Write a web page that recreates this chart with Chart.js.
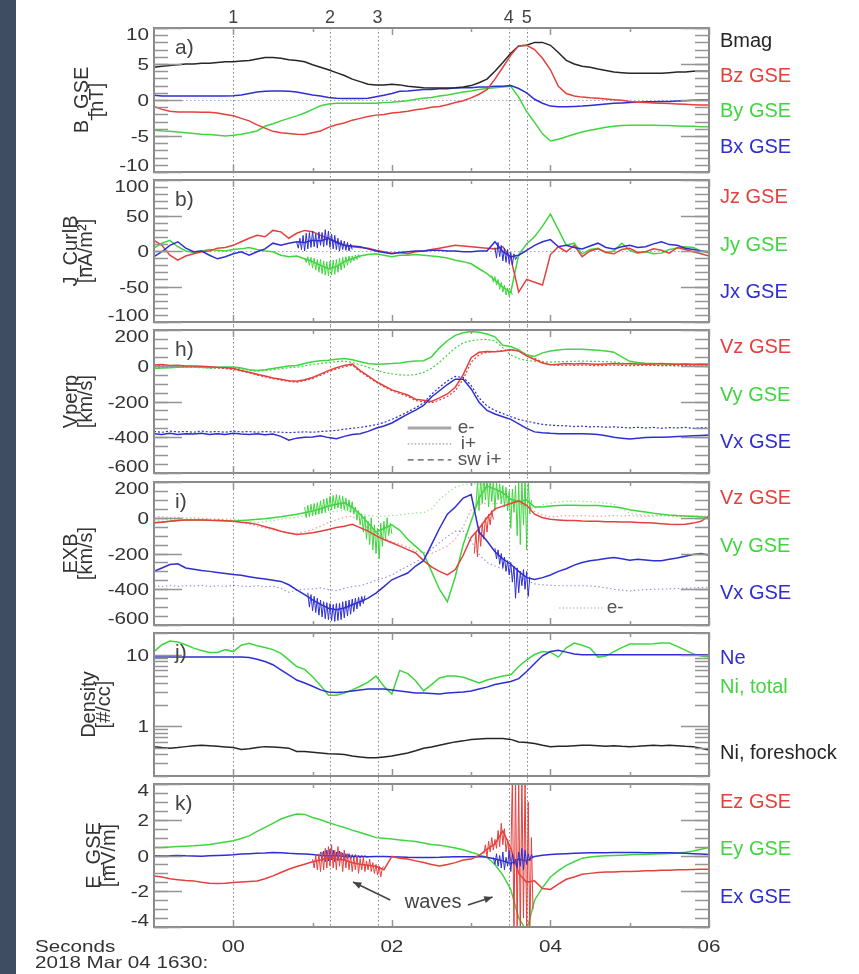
<!DOCTYPE html>
<html>
<head>
<meta charset="utf-8">
<title>2018 Mar 04 shock crossing</title>
<script src="https://cdn.jsdelivr.net/npm/chart.js@4.4.1/dist/chart.umd.min.js"></script>
<style>
  html, body { margin: 0; padding: 0; background: #fff; }
  #page { position: relative; width: 859px; height: 974px; overflow: hidden; background: #fff; }
  #strip { position: absolute; left: 0; top: 0; width: 16px; height: 974px; background: #3f4d62; }
  #page canvas { position: absolute; left: 0; }
</style>
</head>
<body>
<div id="page"><div id="strip"></div></div>
<script>
// time axis: minutes after 2018-03-04 16:30
const T = [-1.0,-0.9,-0.8,-0.7,-0.6,-0.5,-0.4,-0.3,-0.2,-0.1,0.0,0.1,0.2,0.3,0.4,0.5,0.6,0.7,0.8,0.9,
  1.0,1.1,1.2,1.3,1.4,1.5,1.6,1.7,1.8,1.9,2.0,2.1,2.2,2.3,2.4,2.5,2.6,2.7,2.8,2.9,
  3.0,3.1,3.2,3.3,3.4,3.5,3.6,3.7,3.8,3.9,4.0,4.1,4.2,4.3,4.4,4.5,4.6,4.7,4.8,4.9,
  5.0,5.1,5.2,5.3,5.4,5.5,5.6,5.7,5.8,5.9,6.0];
// finer time grids for the wave packets
const W1 = [0.80,0.82,0.84,0.86,0.88,0.90,0.92,0.94,0.96,0.98,1.00,1.02,1.04,1.06,1.08,1.10,1.12,1.14,1.16,1.18,
  1.20,1.22,1.24,1.26,1.28,1.30,1.32,1.34,1.36,1.38,1.40,1.42,1.44,1.46,1.48,1.50,1.52,1.54,1.56,1.58,
  1.60,1.62,1.64,1.66,1.68,1.70,1.72,1.74,1.76,1.78,1.80,1.82,1.84,1.86,1.88,1.90,1.92,1.94,1.96,1.98,2.00];
const W2 = [3.00,3.02,3.04,3.06,3.08,3.10,3.12,3.14,3.16,3.18,3.20,3.22,3.24,3.26,3.28,3.30,3.32,3.34,3.36,3.38,
  3.40,3.42,3.44,3.46,3.48,3.50,3.52,3.54,3.56,3.58,3.60,3.62,3.64,3.66,3.68,3.70,3.72,3.74,3.76,3.78,3.80];

const EVENT_T = [0.0, 1.22, 1.82, 3.475, 3.70];
const EVENT_LABELS = ['1', '2', '3', '4', '5'];
const X_MAJOR = [0, 2, 4, 6];
const X_LABELS = ['00', '02', '04', '06'];
const X_MINOR = [1, 3, 5];

// a) B_GSE [nT]
const BMAG = [4.55,4.7,4.8,4.9,5.0,5.0,5.1,5.1,5.2,5.3, 5.3,5.4,5.5,5.7,5.9,5.9,5.8,5.6,5.5,5.3,
  4.9,4.55,4.2,3.8,3.4,2.9,2.55,2.2,2.1,2.1, 2.2,2.1,1.9,1.8,1.7,1.65,1.65,1.65,1.7,1.8,
  2.0,2.4,2.9,4.0,5.2,6.5,7.5,7.6,8.0,8.0, 7.6,6.6,5.5,5.0,4.7,4.55,4.3,4.1,3.9,3.8,
  3.7,3.7,3.7,3.7,3.7,3.8,3.9,3.9,4.0,4.0,4.0];
const BZ = [-0.9,-1.3,-1.55,-1.65,-1.65,-1.65,-1.7,-1.7,-1.8,-2.0, -2.2,-2.55,-2.9,-3.45,-3.9,-4.35,-4.55,-4.65,-4.75,-4.8,
  -4.55,-4.3,-3.8,-3.45,-3.2,-2.8,-2.55,-2.3,-2.1,-2.0, -1.8,-1.7,-1.55,-1.35,-1.2,-1.0,-0.9,-0.65,-0.35,-0.1,
  0.3,0.8,1.45,2.9,4.55,6.2,7.55,7.6,7.0,5.8, 4.2,1.9,0.9,0.55,0.4,0.3,0.25,0.15,0.05,-0.05,
  -0.2,-0.3,-0.35,-0.4,-0.45,-0.5,-0.55,-0.6,-0.65,-0.7,-0.7];
const BY = [-4.2,-4.3,-4.35,-4.45,-4.55,-4.65,-4.75,-4.8,-4.9,-5.0, -4.9,-4.75,-4.55,-4.3,-3.65,-3.3,-2.9,-2.55,-2.2,-1.8,
  -1.3,-0.8,-0.55,-0.45,-0.45,-0.45,-0.45,-0.45,-0.45,-0.35, -0.3,-0.2,-0.1,0.1,0.25,0.35,0.55,0.7,0.9,1.1,
  1.25,1.45,1.6,1.7,1.8,1.9,0.4,-1.6,-3.1,-4.7, -5.7,-5.45,-5.1,-4.75,-4.45,-4.2,-4.0,-3.8,-3.65,-3.55,
  -3.5,-3.5,-3.5,-3.5,-3.55,-3.55,-3.6,-3.65,-3.65,-3.7,-3.7];
const BX = [0.65,0.55,0.55,0.55,0.55,0.55,0.55,0.55,0.55,0.55, 0.6,0.7,0.9,1.1,1.2,1.25,1.25,1.2,1.1,0.9,
  0.7,0.55,0.35,0.25,0.2,0.2,0.2,0.25,0.45,0.65, 0.9,1.2,1.25,1.35,1.45,1.45,1.55,1.55,1.65,1.7,
  1.7,1.8,1.8,1.9,1.9,2.0,1.6,1.0,0.1,-0.45, -0.85,-0.95,-0.95,-0.9,-0.85,-0.75,-0.65,-0.55,-0.45,-0.4,
  -0.35,-0.3,-0.25,-0.25,-0.2,-0.2,-0.15,-0.1,-0.05,0.0,0.0];

// b) J_CurlB [nA/m2]
const JZ = [15,8,-6,-13,-7,-4,-1,0,4,5, 8,13,18,22,20,29,27,18,25,29, 27,22,18,13,8,6,5,4,1,-1,
  -3,-2,-4,-1,0,2,4,6,8,7, 6,5,4,3,6,-10,-58,-40,-44,-48, -5,6,-1,8,-8,0,3,-2,-4,2, 4,-2,-1,3,1,-3,5,2,-1,-4,-7];
const JY = [4,11,15,6,0,-2,0,2,1,0, 2,3,5,2,0,-1,-6,-8,-7,-11, -15,-20,-25,-22,-15,-11,-7,-5,-4,-6,
  -8,-6,-6,-5,-6,-7,-8,-10,-13,-15, -18,-25,-32,-41,-51,-58,-5,10,20,35, 52,30,8,11,-4,2,4,-2,0,11, 1,-3,-1,-4,-3,2,4,6,5,0,-3];
const JX = [-8,-1,8,13,4,-1,0,-6,-11,-8, -4,-1,-6,-1,3,11,8,11,13,12, 15,14,18,12,8,7,6,3,0,-2,
  -4,-2,-1,0,0,1,1,0,0,-1, -1,0,0,13,-1,-8,-6,1,8,13, 16,6,8,5,3,7,11,5,3,6, 8,5,6,10,13,9,8,4,2,0,-1];
const JY_WAVE1 = [-10,-16,-8,-20,-9,-24,-10,-27,-12,-30,-12,-32,-14,-34,-15,-35,-14,-34,-13,-33,-12,-30,-10,-27,-9,-24,-8,-20,-7,-17,-7,-14,-6,-12,-5,-10];
const JX_WAVE1 = [12,4,18,2,22,0,25,3,26,5,28,6,24,4,27,8,26,6,30,8,28,5,24,3,22,2,18,0,15,2,14,1,12,0,10,2];
const JY_WAVE2 = [-34,-44,-36,-48,-40,-54,-44,-58,-48,-62,-52,-64,-56,-62];
const JX_WAVE2 = [5,-10,12,-8,8,-14,4,-16,2,-18,-2,-20,-4,-12,-8];

// h) Vperp [km/s], electrons (solid) and ions (dotted)
const VZ_E = [4,7,1,3,-1,-1,-3,-6,-9,-11, -16,-26,-36,-47,-57,-68,-76,-84,-87,-78, -66,-47,-27,-11,2,10,-27,-57,-87,-112,
  -135,-149,-164,-187,-193,-200,-180,-158,-120,-50, 45,75,80,78,82,90,82,55,35,15, 5,8,12,10,12,10,8,10,12,10, 12,10,8,10,12,10,8,10,8,10,8];
const VY_E = [-16,-13,-11,-8,-7,-7,-9,-11,-8,-7, -7,-13,-22,-27,-22,-16,-8,-1,2,13, 22,28,31,37,41,34,22,13,8,10,
  12,16,22,26,28,50,100,140,170,185, 192,188,178,162,115,108,88,60,52,72, 82,88,93,93,92,90,87,82,76,50, 25,18,14,12,10,10,8,8,6,5,5];
const VX_E = [-380,-385,-378,-384,-380,-382,-378,-385,-380,-384, -378,-382,-385,-380,-386,-382,-395,-417,-405,-400,
  -398,-392,-402,-408,-395,-385,-380,-367,-350,-337, -320,-295,-271,-248,-222,-175,-140,-105,-75,-75,
  -130,-205,-250,-270,-285,-300,-325,-350,-370,-375, -378,-380,-380,-380,-380,-382,-385,-392,-400,-405,
  -410,-405,-402,-400,-400,-398,-396,-394,-392,-390,-388];
const VZ_I = [0,2,-3,-1,-5,-6,-8,-10,-13,-16, -21,-30,-40,-52,-62,-72,-80,-88,-92,-84, -72,-54,-34,-18,-5,3,-33,-62,-92,-118,
  -140,-156,-172,-195,-202,-208,-192,-172,-140,-75, 20,62,76,80,85,90,84,64,42,20, 6,2,4,2,4,2,0,2,4,2, 0,2,4,2,0,2,0,2,0,0,2];
const VY_I = [-12,-10,-9,-9,-8,-9,-11,-13,-11,-11, -11,-17,-25,-31,-27,-22,-17,-11,-8,-1, 8,13,18,23,26,18,6,-9,-25,-37,
  -45,-51,-53,-49,-37,-15,20,60,100,128, 140,146,148,138,100,60,40,30,25,22, 20,22,24,25,26,25,24,23,22,15, 8,5,3,2,1,0,-1,-2,-3,-4,-5];
const VX_I = [-368,-372,-366,-370,-368,-372,-366,-370,-368,-372, -366,-370,-368,-372,-368,-370,-372,-374,-372,-370,
  -372,-368,-365,-362,-355,-350,-345,-338,-330,-318, -300,-280,-258,-235,-208,-160,-120,-85,-60,-65,
  -110,-180,-225,-250,-268,-285,-300,-310,-320,-328, -332,-335,-336,-340,-338,-342,-340,-344,-342,-345,
  -348,-344,-348,-345,-350,-346,-348,-345,-350,-346,-348];
const KEY_H = ['e-', 'i+', 'sw i+'];

// i) EXB [km/s]
const EXB_VZ = [-28,-25,-20,-15,-13,-13,-12,-14,-15,-17, -19,-25,-30,-37,-50,-62,-75,-85,-94,-90, -84,-75,-66,-55,-47,-37,-55,-75,-100,-122,
  -140,-159,-178,-197,-240,-275,-300,-320,-290,-210, -110,-60,0,50,65,80,95,70,20,0, -9,-12,-15,-16,-18,-19,-20,-22,-23,-24,
  -24,-26,-28,-30,-33,-37,-38,-36,-30,-20,10];
const EXB_VY = [-28,-24,-20,-15,-13,-13,-12,-14,-15,-17, -19,-15,-12,-9,-5,0,5,12,19,28, 37,50,66,75,84,60,20,-30,-80,-60,
  -40,-70,-120,-160,-200,-300,-400,-470,-330,-150, -20,110,178,160,140,103,90,100,60,60, 66,68,70,70,69,69,68,65,62,55,
  45,38,32,25,20,15,12,10,8,5,0];
const EXB_VX = [-300,-281,-262,-258,-281,-288,-295,-300,-306,-312, -318,-322,-330,-337,-343,-350,-356,-375,-403,-430,
  -459,-485,-506,-515,-505,-487,-470,-450,-422,-385, -347,-328,-309,-270,-240,-150,-60,20,60,110,
  130,-80,-130,-190,-230,-260,-300,-335,-345,-335, -320,-300,-285,-265,-250,-240,-235,-228,-223,-230,
  -238,-232,-236,-240,-240,-232,-225,-215,-205,-200,-210];
const VY_WAVE1 = [60,0,70,5,75,10,80,15,85,20, 95,25,105,30,110,40,120,45,125,50, 130,55,125,50,120,45,110,40,100,30,
  90,20,60,-10,40,-40,20,-80,10,-120, -20,-150,0,-180,-40,-200,-60,-230,-30,-160, -20,-120,0,-100,-30,-90];
const VX_WAVE1 = [-420,-500,-430,-520,-440,-530,-450,-545,-460,-555,-470,-565,-475,-570,-480,-575,-485,-580,-480,-575,
  -478,-570,-470,-560,-465,-550,-460,-540,-455,-525,-450,-510,-445,-495,-440,-480,-435];
const VY_WAVE2 = [60,200,40,220,80,230,100,230,60,220,90,210,40,200,100,190,80,180,60,170,40,150,-60,160,30,180,-100,200,-150,210,-40,230,-180,220,20,100];
const VX_WAVE2 = [-170,-230,-180,-260,-200,-280,-220,-300,-240,-320,-250,-360,-270,-450,-280,-420,-300,-380,-290,-400,-300,-440,-330];
const VZ_WAVE2 = [-200,-80,-220,-50,-160,-30,-120,0,-80,20,-40,40,-10];

// j) Density [#/cc]
const NE = [9.2,9.2,9.2,9.2,9.2,9.2,9.2,9.2,9.2,9.2, 9.2,9.2,9.1,8.6,8.0,7.2,6.1,5.2,4.4,4.0,
  3.6,3.2,3.0,2.95,3.0,3.1,3.2,3.3,3.3,3.3, 3.2,3.1,3.0,2.9,2.9,2.85,2.8,2.9,2.95,3.0,
  3.1,3.3,3.5,3.8,4.0,4.2,4.6,5.8,7.5,9.6, 11.0,11.5,10.8,10.2,9.9,9.9,9.9,9.9,9.9,9.9,
  9.9,9.9,9.9,9.9,9.9,9.9,9.9,9.9,9.9,9.9,9.9];
const NI = [11.0,13.7,15.4,15.0,13.7,12.3,11.4,10.7,10.7,11.7, 11.0,13.5,14.4,13.3,12.5,11.7,10.4,8.4,6.8,6.2,
  4.9,3.7,2.7,2.7,2.9,3.2,3.6,4.1,5.0,3.6, 2.8,6.0,5.4,4.3,3.1,3.8,4.7,5.0,5.0,4.8,
  4.4,4.0,4.4,4.7,5.0,5.2,6.8,8.4,10.0,11.0, 10.8,9.2,12.4,14.5,13.5,12.3,9.2,9.5,11.0,12.5,
  14.0,14.0,14.0,14.2,14.5,14.5,13.0,11.5,10.2,9.5,9.2];
const NF = [0.515,0.5,0.49,0.5,0.515,0.53,0.54,0.53,0.52,0.51, 0.5,0.47,0.48,0.5,0.515,0.51,0.5,0.49,0.44,0.44,
  0.43,0.42,0.41,0.405,0.4,0.38,0.37,0.36,0.36,0.37, 0.38,0.4,0.42,0.45,0.49,0.51,0.54,0.57,0.6,0.62,
  0.65,0.66,0.67,0.67,0.67,0.65,0.6,0.59,0.57,0.54, 0.515,0.52,0.52,0.53,0.54,0.54,0.53,0.52,0.53,0.52,
  0.515,0.52,0.53,0.54,0.53,0.54,0.53,0.52,0.515,0.49,0.46];

// k) E_GSE [mV/m]
const EY = [0.45,0.45,0.48,0.5,0.52,0.54,0.58,0.62,0.68,0.75, 0.82,0.95,1.1,1.35,1.57,1.8,2.04,2.2,2.32,2.3,
  2.13,2.0,1.85,1.7,1.57,1.42,1.29,1.15,1.0,0.96, 0.92,0.87,0.82,0.78,0.7,0.62,0.58,0.5,0.42,0.32,
  0.18,0.05,-0.1,-0.5,-1.1,-1.9,-3.5,-4.2,-2.5,-1.8, -1.2,-0.85,-0.55,-0.35,-0.15,-0.08,-0.04,-0.02,0.0,0.02,
  0.04,0.05,0.06,0.08,0.1,0.11,0.14,0.18,0.25,0.35,0.45];
const EZ = [-1.14,-1.2,-1.3,-1.35,-1.4,-1.42,-1.5,-1.55,-1.57,-1.55, -1.51,-1.48,-1.45,-1.42,-1.3,-1.14,-0.95,-0.77,-0.62,-0.49,
  -0.35,-0.25,-0.11,-0.2,-0.25,-0.4,-0.49,-0.55,-0.6,-0.8, -0.05,-0.15,-0.2,-0.3,-0.39,-0.5,-0.58,-0.5,-0.4,-0.25,
  -0.2,0.0,0.36,0.64,1.38,0.4,-1.0,-1.5,-1.42,-1.85, -1.9,-1.6,-1.33,-1.2,-1.05,-1.0,-0.95,-0.93,-0.92,-0.9,
  -0.9,-0.88,-0.86,-0.85,-0.83,-0.82,-0.8,-0.8,-0.78,-0.77,-0.77];
const EX = [-0.02,-0.03,-0.02,0.0,-0.02,-0.03,-0.04,-0.02,0.0,0.02, 0.04,0.08,0.1,0.12,0.14,0.17,0.15,0.12,0.1,0.08,
  0.05,0.0,-0.02,0.0,-0.05,-0.05,-0.06,-0.07,-0.05,-0.06, -0.07,-0.08,-0.1,-0.11,-0.11,-0.11,-0.1,-0.08,-0.07,-0.07,
  -0.07,-0.05,-0.1,-0.2,-0.3,-0.45,-0.2,-0.3,-0.05,0.02, 0.05,0.08,0.1,0.12,0.14,0.15,0.16,0.16,0.17,0.17,
  0.17,0.17,0.16,0.16,0.15,0.15,0.14,0.12,0.1,0.08,0.05];
const EZ_WAVE1 = [-0.2,-0.7,0.0,-0.8,0.1,-0.9,0.2,-0.8,0.4,-0.7, 0.5,-0.6,0.6,-0.7,0.3,-0.8,0.5,-0.6,0.2,-0.9,
  0.3,-0.7,0.1,-0.8,0.0,-0.9,-0.1,-0.8,0.0,-1.0, -0.2,-0.8,-0.1,-0.9,-0.3,-0.8,-0.2,-0.9,-0.4,-1.0, -0.5,-1.1,-0.6,-1.2,-0.7,-0.6];
const EX_WAVE1 = [0.2,-0.3,0.25,-0.35,0.3,-0.3,0.35,-0.25,0.3,-0.35,0.2,-0.3,0.25,-0.2,0.15,-0.25,0.1,-0.2,0.1,-0.2,
  0.05,-0.15,0.05,-0.15,0.0,-0.15,0.0,-0.12,0.0,-0.1,-0.05];
const EZ_WAVE2 = [0.1,0.6,-0.1,0.8,0.2,1.0,0.3,0.9,0.4,1.4,0.5,1.8,0.6,1.5,0.2,0.9,0.0,-0.3,
  4.5,-4.5,4.5,-4.5,4.2,-4.5,4.5,-3.5,4.5,-4.5,3.0,-4.5,1.0,-3.0];
const EX_WAVE2 = [-0.1,-0.5,0.1,-0.6,0.0,-0.7,0.2,-0.8,-0.1,-0.6,0.3,-0.9,0.1,-0.5,-0.2,-0.7,0.2,-0.6,0.4,-0.8,0.3,-0.5,0.1,-0.3,0.05,-0.1];

// axis ticks and labels
const A_TICKS = [-10, -5, 0, 5, 10], A_LABELS = ['-10', '-5', '0', '5', '10'];
const B_TICKS = [-100, -50, 0, 50, 100], B_LABELS = ['-100', '-50', '0', '50', '100'];
const V_TICKS = [-600, -400, -200, 0, 200], V_LABELS = ['-600', '-400', '-200', '0', '200'];
const N_TICKS = [1, 10], N_LABELS = ['1', '10'];
const N_MINOR = [0.2, 0.3, 0.4, 0.5, 0.6, 0.7, 0.8, 0.9, 2, 3, 4, 5, 6, 7, 8, 9, 20];
const E_TICKS = [-4, -2, 0, 2, 4], E_LABELS = ['-4', '-2', '0', '2', '4'];

const RED = '#e4403d', GREEN = '#40d540', BLUE = '#2e2ed2', BLACK = '#262626';
const FRAME = '#8a8a8a', TICK = '#959595', INK = '#333';
const SX = 1.25, CAP = 12;
const FAM = '"Liberation Sans", Arial, Helvetica, sans-serif';
const TICK_FONT = '16.5px ' + FAM;

const pts = (ts, vs) => vs.map((v, k) => ({ x: ts[k], y: v }));
const seg = (grid, start, vs) => vs.map((v, k) => ({ x: grid[start + k], y: v }));
function ds(data, color, extra) {
  return Object.assign({ data, borderColor: color, borderWidth: 1.5, pointRadius: 0, tension: 0, fill: false }, extra || {});
}
const thin = { borderWidth: 1 };
const dotted = { borderWidth: 1.2, borderDash: [2, 2] };
const pale = (c) => ({ borderWidth: 1.1, borderDash: [1.5, 2.5], borderColor: c });

function wide(ctx, s, x, y, align) {
  ctx.save(); ctx.translate(x, y); ctx.scale(SX, 1); ctx.textAlign = align; ctx.fillText(s, 0, 0); ctx.restore();
}
function arrow(ctx, x0, y0, x1, y1) {
  ctx.beginPath(); ctx.moveTo(x0, y0); ctx.lineTo(x1, y1); ctx.stroke();
  const a = Math.atan2(y1 - y0, x1 - x0), L = 9;
  ctx.beginPath(); ctx.moveTo(x1, y1);
  ctx.lineTo(x1 - L * Math.cos(a - 0.4), y1 - L * Math.sin(a - 0.4));
  ctx.lineTo(x1 - L * Math.cos(a + 0.4), y1 - L * Math.sin(a + 0.4));
  ctx.closePath(); ctx.fill();
}

const PANELS = [
  { frame: [28, 172], min: -10, max: 10, ticks: A_TICKS, labels: A_LABELS, minorStep: 1,
    title: ['B_GSE', '[nT]'], letter: 'a)', zero: true,
    names: ['Bmag', 'Bz GSE', 'By GSE', 'Bx GSE'], nameColors: [BLACK, RED, GREEN, BLUE], nameY: [13, 48, 83, 119],
    sets: () => [ds(pts(T, BZ), RED), ds(pts(T, BMAG), BLACK), ds(pts(T, BX), BLUE), ds(pts(T, BY), GREEN)] },
  { frame: [180, 322], min: -100, max: 100, ticks: B_TICKS, labels: B_LABELS, minorStep: 10,
    title: ['J_CurlB', '[nA/m\u00b2]'], letter: 'b)', zero: true,
    names: ['Jz GSE', 'Jy GSE', 'Jx GSE'], nameColors: [RED, GREEN, BLUE], nameY: [17, 65, 112],
    sets: () => [ds(seg(W1, 0, JX_WAVE1), BLUE, thin), ds(seg(W2, 15, JX_WAVE2), BLUE, thin), ds(pts(T, JX), BLUE),
      ds(pts(T, JZ), RED), ds(seg(W1, 5, JY_WAVE1), GREEN, thin), ds(seg(W2, 13, JY_WAVE2), GREEN, thin), ds(pts(T, JY), GREEN)] },
  { frame: [330, 473], min: -600, max: 200, ticks: V_TICKS, labels: V_LABELS, minorStep: 50,
    title: ['Vperp', '[km/s]'], letter: 'h)',
    names: ['Vz GSE', 'Vy GSE', 'Vx GSE'], nameColors: [RED, GREEN, BLUE], nameY: [17, 65, 112],
    sets: () => [ds(pts(T, VX_E), BLUE), ds(pts(T, VZ_E), RED), ds(pts(T, VY_E), GREEN),
      ds(pts(T, VX_I), BLUE, dotted), ds(pts(T, VZ_I), RED, dotted), ds(pts(T, VY_I), GREEN, dotted)],
    extra(ctx, xs, ys) {
      const styles = [{ w: 3, dash: [], c: '#a8a8a8' }, { w: 1.2, dash: [1.5, 2], c: '#9a9a9a' }, { w: 1.3, dash: [6, 4], c: '#555' }];
      const levels = [-348, -437, -527], textT = [2.83, 2.87, 2.83];
      ctx.font = '19px ' + FAM; ctx.textBaseline = 'middle'; ctx.textAlign = 'left';
      KEY_H.forEach((s, k) => {
        const py = ys.getPixelForValue(levels[k]);
        ctx.strokeStyle = styles[k].c; ctx.lineWidth = styles[k].w; ctx.setLineDash(styles[k].dash);
        ctx.beginPath(); ctx.moveTo(xs.getPixelForValue(2.20), py); ctx.lineTo(xs.getPixelForValue(2.75), py); ctx.stroke();
        ctx.fillStyle = '#555'; ctx.fillText(s, xs.getPixelForValue(textT[k]), py);
      });
      ctx.setLineDash([]);
    } },
  { frame: [482, 625], min: -600, max: 200, ticks: V_TICKS, labels: V_LABELS, minorStep: 50,
    title: ['EXB', '[km/s]'], letter: 'i)',
    names: ['Vz GSE', 'Vy GSE', 'Vx GSE'], nameColors: [RED, GREEN, BLUE], nameY: [16, 64, 111],
    sets: () => [ds(seg(W1, 7, VX_WAVE1), BLUE, thin), ds(seg(W2, 15, VX_WAVE2), BLUE, thin), ds(pts(T, EXB_VX), BLUE),
      ds(seg(W2, 2, VZ_WAVE2), RED, thin), ds(pts(T, EXB_VZ), RED),
      ds(seg(W1, 5, VY_WAVE1), GREEN, thin), ds(seg(W2, 3, VY_WAVE2), GREEN, thin), ds(pts(T, EXB_VY), GREEN),
      ds(pts(T, VX_E), BLUE, pale('rgba(70,70,200,0.6)')), ds(pts(T, VY_E), GREEN, pale('rgba(80,210,80,0.6)')),
      ds(pts(T, VZ_E), RED, pale('rgba(225,80,80,0.6)'))],
    extra(ctx, xs, ys) {
      const py = ys.getPixelForValue(-505);
      ctx.strokeStyle = '#a9adc4'; ctx.lineWidth = 1.2; ctx.setLineDash([1.5, 2]);
      ctx.beginPath(); ctx.moveTo(xs.getPixelForValue(4.11), py); ctx.lineTo(xs.getPixelForValue(4.66), py); ctx.stroke();
      ctx.setLineDash([]);
      ctx.font = '19px ' + FAM; ctx.textBaseline = 'middle'; ctx.textAlign = 'left'; ctx.fillStyle = '#555';
      ctx.fillText(KEY_H[0], xs.getPixelForValue(4.71), py);
    } },
  { frame: [633, 776], min: 0.2, max: 20, log: true, ticks: N_TICKS, labels: N_LABELS, minor: N_MINOR,
    title: ['Density', '[#/cc]'], letter: 'j)',
    names: ['Ne', 'Ni, total', 'Ni, foreshock'], nameColors: [BLUE, GREEN, BLACK], nameY: [25, 54, 120],
    sets: () => [ds(pts(T, NE), BLUE), ds(pts(T, NI), GREEN), ds(pts(T, NF), BLACK)] },
  { frame: [784, 927], min: -4, max: 4, ticks: E_TICKS, labels: E_LABELS, minorStep: 0.5,
    title: ['E_GSE', '[mV/m]'], letter: 'k)',
    names: ['Ez GSE', 'Ey GSE', 'Ex GSE'], nameColors: [RED, GREEN, BLUE], nameY: [18, 65, 113],
    sets: () => [ds(seg(W2, 14, EX_WAVE2), BLUE, thin), ds(seg(W2, 8, EZ_WAVE2), RED, thin), ds(seg(W1, 10, EZ_WAVE1), RED, thin),
      ds(pts(T, EZ), RED), ds(seg(W1, 15, EX_WAVE1), BLUE, thin), ds(pts(T, EX), BLUE), ds(pts(T, EY), GREEN)],
    extra(ctx, xs, ys) {
      ctx.strokeStyle = '#444'; ctx.fillStyle = '#444'; ctx.lineWidth = 1.5;
      arrow(ctx, xs.getPixelForValue(1.98), ys.getPixelForValue(-2.49), xs.getPixelForValue(1.51), ys.getPixelForValue(-1.48));
      arrow(ctx, xs.getPixelForValue(2.96), ys.getPixelForValue(-2.77), xs.getPixelForValue(3.27), ys.getPixelForValue(-2.32));
      ctx.font = '20px ' + FAM; ctx.textAlign = 'center'; ctx.textBaseline = 'middle'; ctx.fillStyle = '#444';
      ctx.fillText('waves', xs.getPixelForValue(2.52), ys.getPixelForValue(-2.65));
    } }
];

function minorTicks(p) {
  if (p.minor) return p.minor;
  const out = [];
  const n0 = Math.round(p.min / p.minorStep), n1 = Math.round(p.max / p.minorStep);
  for (let n = n0; n <= n1; n++) out.push(n * p.minorStep);
  return out;
}

function decor(p, idx, canvasTop) {
  const last = idx === PANELS.length - 1;
  return {
    id: 'decor' + idx,
    beforeDatasetsDraw(chart) {
      const { ctx, chartArea: ca } = chart;
      const xs = chart.scales.x, ys = chart.scales.y;
      ctx.save();
      ctx.lineWidth = 1;
      ctx.setLineDash([1.5, 2.5]);
      if (p.zero) {
        ctx.strokeStyle = '#9aa2cc';
        const py = Math.round(ys.getPixelForValue(0)) + 0.5;
        ctx.beginPath(); ctx.moveTo(ca.left, py); ctx.lineTo(ca.right, py); ctx.stroke();
      }
      ctx.strokeStyle = '#858585';
      EVENT_T.forEach(t => {
        const px = Math.round(xs.getPixelForValue(t)) + 0.5;
        ctx.beginPath();
        ctx.moveTo(px, idx === 0 ? ca.top : 0);
        ctx.lineTo(px, last ? ca.bottom : chart.height);
        ctx.stroke();
      });
      ctx.restore();
    },
    afterDraw(chart) {
      const { ctx, chartArea: ca } = chart;
      const xs = chart.scales.x, ys = chart.scales.y;
      ctx.save();
      ctx.setLineDash([]);
      ctx.strokeStyle = FRAME; ctx.lineWidth = 2;
      ctx.strokeRect(ca.left, ca.top, ca.right - ca.left, ca.bottom - ca.top);

      // inward ticks on all four sides
      ctx.strokeStyle = TICK; ctx.lineWidth = 1.5;
      const hline = (v, len) => {
        const py = Math.round(ys.getPixelForValue(v)) + 0.5;
        ctx.beginPath(); ctx.moveTo(ca.left, py); ctx.lineTo(ca.left + len, py);
        ctx.moveTo(ca.right, py); ctx.lineTo(ca.right - len, py); ctx.stroke();
      };
      minorTicks(p).forEach(v => hline(v, 14));
      p.ticks.forEach(v => hline(v, 28));
      const vline = (t, len) => {
        const px = Math.round(xs.getPixelForValue(t)) + 0.5;
        ctx.beginPath(); ctx.moveTo(px, ca.top); ctx.lineTo(px, ca.top + len);
        ctx.moveTo(px, ca.bottom); ctx.lineTo(px, ca.bottom - len); ctx.stroke();
      };
      X_MAJOR.forEach(t => vline(t, 7));
      X_MINOR.forEach(t => vline(t, 4));

      // y tick labels, end labels pulled inside the frame
      ctx.fillStyle = INK; ctx.font = TICK_FONT; ctx.textBaseline = 'alphabetic';
      let maxW = 0;
      p.ticks.forEach((v, k) => {
        const s = p.labels[k];
        maxW = Math.max(maxW, ctx.measureText(s).width * SX);
        const base = Math.min(Math.max(ys.getPixelForValue(v) + CAP / 2, ca.top + CAP), ca.bottom - 1);
        wide(ctx, s, ca.left - 5, base, 'right');
      });

      // rotated y title
      ctx.font = '20px ' + FAM; ctx.textAlign = 'center';
      const cy = (ca.top + ca.bottom) / 2;
      p.title.forEach((s, k) => {
        const bx = ca.left - 5 - maxW - 16 - (p.title.length - 1 - k) * 15;
        ctx.save(); ctx.translate(bx, cy); ctx.rotate(-Math.PI / 2); ctx.fillText(s, 0, 0); ctx.restore();
      });

      // panel letter
      ctx.font = '21px ' + FAM; ctx.textAlign = 'left'; ctx.fillStyle = '#444';
      ctx.fillText(p.letter, ca.left + 21, ca.top + 26);

      // series names at right
      ctx.font = '20px ' + FAM; ctx.textBaseline = 'middle';
      p.names.forEach((s, k) => { ctx.fillStyle = p.nameColors[k]; ctx.fillText(s, ca.right + 11, ca.top + p.nameY[k]); });

      if (p.extra) { ctx.save(); p.extra(ctx, xs, ys); ctx.restore(); }

      if (idx === 0) {
        ctx.font = '18px ' + FAM; ctx.textAlign = 'center'; ctx.textBaseline = 'alphabetic'; ctx.fillStyle = '#444';
        EVENT_T.forEach((t, k) => ctx.fillText(EVENT_LABELS[k], xs.getPixelForValue(t), 23));
      }
      if (last) {
        ctx.font = TICK_FONT; ctx.textBaseline = 'alphabetic'; ctx.fillStyle = INK;
        X_MAJOR.forEach((t, k) => wide(ctx, X_LABELS[k], xs.getPixelForValue(t), ca.bottom + 25, 'center'));
        wide(ctx, 'Seconds', 35, 952 - canvasTop, 'left');
        wide(ctx, '2018 Mar 04 1630:', 35, 968 - canvasTop, 'left');
      }
      ctx.restore();
    }
  };
}

const page = document.getElementById('page');
const PAGE_H = 974, PAGE_W = 859, PLOT_LEFT = 154, PLOT_RIGHT = 709;
PANELS.forEach((p, idx) => {
  const prev = PANELS[idx - 1], next = PANELS[idx + 1];
  const top = prev ? Math.floor((prev.frame[1] + p.frame[0]) / 2) : 0;
  const bottom = next ? Math.floor((p.frame[1] + next.frame[0]) / 2) : PAGE_H;
  const cv = document.createElement('canvas');
  cv.width = PAGE_W; cv.height = bottom - top;
  cv.style.top = top + 'px';
  page.appendChild(cv);
  new Chart(cv, {
    type: 'line',
    data: { datasets: p.sets() },
    options: {
      responsive: false, animation: false, devicePixelRatio: 1, events: [],
      layout: { padding: { left: PLOT_LEFT, right: PAGE_W - PLOT_RIGHT, top: p.frame[0] - top, bottom: bottom - p.frame[1] } },
      scales: {
        x: { type: 'linear', min: -1, max: 6, display: false },
        y: { type: p.log ? 'logarithmic' : 'linear', min: p.min, max: p.max, display: false }
      },
      plugins: { legend: { display: false }, tooltip: { enabled: false } }
    },
    plugins: [decor(p, idx, top)]
  });
});
</script>
</body>
</html>
